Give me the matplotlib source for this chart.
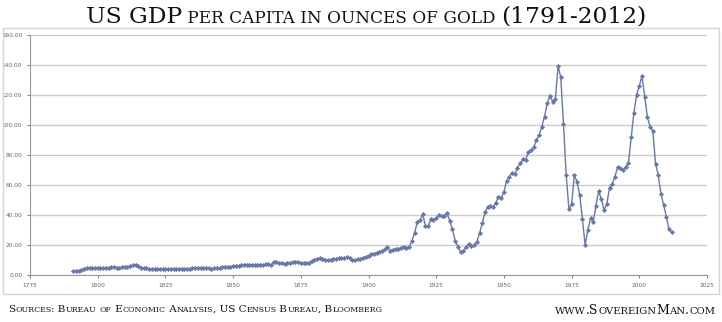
import matplotlib
matplotlib.use('Agg')
import matplotlib.pyplot as plt
from matplotlib.patches import Rectangle

# ----------------------------------------------------------------------
# data: US GDP per capita in ounces of gold, 1791-2012
# ----------------------------------------------------------------------
years = list(range(1791, 2013))
gdp_gold = [
    2.5, 2.7, 3.0, 3.4, 4.3, 4.7, 4.6, 4.5, 4.7, 4.8,          # 1791-1800
    4.9, 4.4, 4.6, 4.9, 5.1, 5.2, 5.0, 4.9, 5.3, 5.4,          # 1801-1810
    5.6, 5.7, 6.4, 7.0, 5.8, 5.0, 4.7, 4.6, 4.3, 4.1,          # 1811-1820
    4.0, 4.0, 3.8, 3.7, 3.8, 3.7, 3.8, 3.8, 3.7, 3.9,          # 1821-1830
    4.0, 4.1, 4.2, 4.3, 4.5, 4.7, 4.5, 4.6, 4.8, 4.5,          # 1831-1840
    4.4, 4.3, 4.4, 4.6, 4.9, 5.2, 5.6, 5.5, 5.4, 5.8,          # 1841-1850
    6.0, 6.2, 6.5, 6.8, 7.0, 6.9, 6.8, 6.6, 6.9, 7.0,          # 1851-1860
    6.9, 7.3, 7.6, 6.4, 9.0, 8.6, 8.0, 7.8, 7.5, 7.9,          # 1861-1870
    8.2, 8.4, 8.6, 8.5, 8.1, 7.7, 7.9, 8.3, 9.2, 10.1,         # 1871-1880
    10.8, 11.2, 10.9, 10.3, 9.9, 10.2, 10.6, 10.9, 11.2, 11.6, # 1881-1890
    11.4, 11.8, 11.1, 10.0, 10.2, 10.4, 10.6, 11.5, 12.2, 13.0,  # 1891-1900
    13.8, 14.2, 14.9, 15.2, 16.0, 17.2, 18.9, 16.2, 17.0, 17.4,  # 1901-1910
    17.2, 18.1, 19.0, 17.9, 18.7, 22.5, 28.0, 35.3, 36.5, 40.5,  # 1911-1920
    33.0, 32.5, 37.2, 37.0, 37.8, 40.3, 39.3, 39.6, 41.3, 36.0,  # 1921-1930
    30.4, 22.9, 18.9, 15.1, 16.2, 18.4, 20.7, 19.1, 20.2, 22.2,  # 1931-1940
    27.8, 34.4, 41.8, 45.6, 46.0, 45.1, 48.2, 52.2, 51.6, 55.3,  # 1941-1950
    62.9, 65.6, 68.2, 67.1, 71.6, 74.4, 77.1, 76.7, 81.8, 83.3,  # 1951-1960
    85.1, 90.0, 93.3, 98.9, 105.6, 114.4, 119.6, 115.6, 117.1, 139.3,  # 1961-1970
    131.8, 100.7, 66.7, 44.0, 47.1, 66.7, 62.2, 53.3, 37.1, 20.0,  # 1971-1980
    30.0, 37.8, 35.6, 46.2, 56.0, 50.4, 43.3, 47.3, 58.2, 60.7,  # 1981-1990
    65.6, 71.8, 71.1, 70.0, 72.2, 74.9, 91.8, 108.2, 120.0, 126.0,  # 1991-2000
    132.7, 118.9, 105.1, 98.9, 96.2, 74.0, 66.7, 54.0, 46.7, 38.4,  # 2001-2010
    30.4, 28.4,                                                  # 2011-2012
]
x_ticks = list(range(1775, 2026, 25))
y_ticks = list(range(0, 161, 20))

TITLE_BIG = ['US GDP', '(1791-2012)']
SOURCES = 'Sources: Bureau of Economic Analysis, US Census Bureau, Bloomberg'
SITE = 'www.SovereignMan.com'

W, H = 722, 322
LINE = '#6878a8'
SERIF = 'DejaVu Serif'

fig = plt.figure(figsize=(W / 100, H / 100), dpi=100)
renderer = fig.canvas.get_renderer()

# light frame round the chart area
fig.add_artist(Rectangle((3 / W, 1 - 294 / H), 716 / W, 266 / H,
                         transform=fig.transFigure, facecolor='none',
                         edgecolor='#d4d4d4', linewidth=1.0))

ax = fig.add_axes([30 / W, 1 - 275 / H, 677 / W, 240 / H])
ax.plot(years, gdp_gold, color=LINE, linewidth=1.0,
        marker='D', markersize=2.2, markeredgewidth=0.4)
ax.set_xlim(1775, 2025)
ax.set_ylim(0, 160)
ax.set_xticks(x_ticks)
ax.set_yticks(y_ticks)
ax.set_yticklabels([f'{v:.2f}' for v in y_ticks])
ax.tick_params(labelsize=4.2, colors='#666666', length=2.5, width=0.6, pad=3)
ax.grid(axis='y', color='#cccccc', linewidth=1.0)
ax.set_axisbelow(True)
for side in ('top', 'right'):
    ax.spines[side].set_visible(False)
for side in ('left', 'bottom'):
    ax.spines[side].set_color('#999999')
    ax.spines[side].set_linewidth(0.8)


def caps_runs(s):
    """Split into (text, is_small) runs for a fake small-caps look."""
    runs = []
    for ch in s:
        small = ch.islower()
        if runs and runs[-1][1] == small:
            runs[-1][0] += ch
        else:
            runs.append([ch, small])
    return [(t.upper(), sm) for t, sm in runs]


def draw_runs(runs, x_px, y_px, big, small, ha='left'):
    # measure first, then place left to right
    widths = []
    for t, sm in runs:
        tmp = fig.text(0, 0, t, fontsize=small if sm else big, family=SERIF)
        widths.append(tmp.get_window_extent(renderer).width)
        tmp.remove()
    total = sum(widths)
    if ha == 'center':
        x_px -= total / 2
    elif ha == 'right':
        x_px -= total
    for (t, sm), w in zip(runs, widths):
        fig.text(x_px / W, 1 - y_px / H, t, fontsize=small if sm else big,
                 family=SERIF, color='#111111', ha='left', va='baseline')
        x_px += w


title_runs = [(TITLE_BIG[0], False), (' PER CAPITA IN OUNCES OF GOLD ', True),
              (TITLE_BIG[1], False)]
draw_runs(title_runs, 366, 23, 16.8, 12.2, ha='center')
draw_runs(caps_runs(SOURCES), 8, 312, 7.5, 5.7, ha='left')
draw_runs(caps_runs(SITE), 715, 314, 9.0, 7.2, ha='right')

fig.savefig('out.png', dpi=100)
